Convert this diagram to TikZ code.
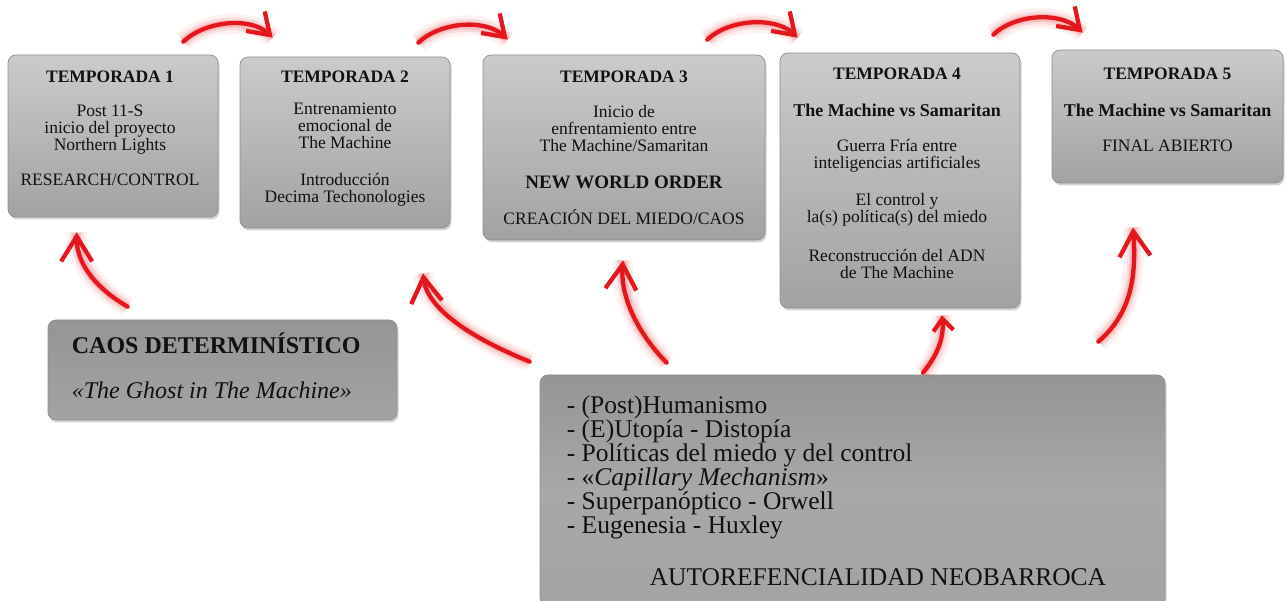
\documentclass[tikz,border=0pt]{standalone}
\usepackage{fontspec}
\setmainfont{Liberation Serif}
\usetikzlibrary{positioning,arrows.meta,shadows,calc}
\definecolor{boxtop}{HTML}{CBCBCB}
\definecolor{boxbot}{HTML}{A2A2A2}
\definecolor{boxrim}{HTML}{8E8E8E}
\definecolor{darktop}{HTML}{959595}
\definecolor{darkbot}{HTML}{A3A3A3}
\definecolor{darkmid}{HTML}{A8A8A8}
\definecolor{arrred}{HTML}{E5161C}
\definecolor{inkblack}{HTML}{111111}
\tikzset{
  ps box/.style={rounded corners=8pt, draw=boxrim, line width=0.7pt, top color=boxtop, bottom color=boxbot,
                 drop shadow={shadow xshift=1.5pt, shadow yshift=-2.5pt, opacity=0.35}, inner sep=0pt},
  ps dark/.style={ps box, top color=darktop, bottom color=darkbot},
  ps txt/.style={align=center, inner sep=0pt, text=inkblack, font=\fontsize{17.5}{17}\selectfont, anchor=north},
  ps arr/.style={arrred, line width=4.3pt, line cap=round, -{Straight Barb[length=20pt, width=27pt]},
                 preaction={draw=arrred, line width=20pt, opacity=0.06, -},
                 preaction={draw=arrred, line width=13pt, opacity=0.10, -},
                 preaction={draw=arrred, line width=8pt, opacity=0.15, -}},
  ps arr big/.style={ps arr, -{Straight Barb[length=25pt, width=31pt]}},
}
\begin{document}
\begin{tikzpicture}[x=1pt, y=1pt]
  \useasboundingbox (0,0) rectangle (1285,601);
  % season boxes along the top
  \node[ps box, minimum width=210pt, minimum height=162pt] (t1) at (113,465) {};
  \node[ps box, minimum width=210pt, minimum height=171pt] (t2) at (345,458.5) {};
  \node[ps box, minimum width=282pt, minimum height=185pt] (t3) at (624,453.5) {};
  \node[ps box, minimum width=240pt, minimum height=255pt] (t4) at (900,420.5) {};
  \node[ps box, minimum width=231pt, minimum height=133pt] (t5) at (1167.5,484.5) {};
  \node[ps txt] (t1txt) at ([xshift=-3pt, yshift=-16pt]t1.north) {\textbf{TEMPORADA 1}\\[17pt]Post 11-S\\inicio del proyecto\\Northern Lights\\[18pt]RESEARCH/CONTROL};
  \node[ps txt] (t2txt) at ([yshift=-14pt]t2.north) {\textbf{TEMPORADA 2}\\[15pt]Entrenamiento\\emocional de\\The Machine\\[20pt]Introducción\\Decima Techonologies};
  \node[ps txt] (t3txt) at ([yshift=-16pt]t3.north) {\textbf{TEMPORADA 3}\\[18pt]Inicio de\\enfrentamiento entre\\The Machine/Samaritan\\[20pt]{\fontsize{19}{17}\selectfont\bfseries NEW WORLD ORDER}\\[19pt]CREACIÓN DEL MIEDO/CAOS};
  \node[ps txt] (t4txt) at ([xshift=-3pt, yshift=-15pt]t4.north) {\textbf{TEMPORADA 4}\\[20pt]{\fontsize{18}{17}\selectfont\bfseries The Machine vs Samaritan}\\[18pt]Guerra Fría entre\\inteligencias artificiales\\[20pt]El control y\\la(s) política(s) del miedo\\[22pt]Reconstrucción del ADN\\de The Machine};
  \node[ps txt] (t5txt) at ([yshift=-18pt]t5.north) {\textbf{TEMPORADA 5}\\[20pt]{\fontsize{18}{17}\selectfont\bfseries The Machine vs Samaritan}\\[18pt]FINAL ABIERTO};
  % lower boxes
  \node[ps dark, minimum width=349pt, minimum height=100pt] (caos) at (222.5,231) {};
  \node[ps txt, anchor=north west, align=left, font=\fontsize{24}{24}\selectfont] (caostxt) at ([xshift=24pt, yshift=-13pt]caos.north west) {\textbf{CAOS DETERMINÍSTICO}\\[21pt]\textit{«The Ghost in The Machine»}};
  \node[ps dark, middle color=darkmid, minimum width=625pt, minimum height=231pt] (temas) at (852.5,110.5) {};
  \node[ps txt, anchor=north west, align=left, font=\fontsize{25.5}{24}\selectfont] (temastxt) at ([xshift=27pt, yshift=-21pt]temas.north west) {- (Post)Humanismo\\- (E)Utopía - Distopía\\- Políticas del miedo y del control\\- «\textit{Capillary Mechanism}»\\- Superpanóptico - Orwell\\- Eugenesia - Huxley};
  \node[ps txt, anchor=base, font=\fontsize{25.5}{24}\selectfont] (neo) at (878,15) {AUTOREFENCIALIDAD NEOBARROCA};
  % arrows between seasons
  \draw[ps arr] ([xshift=-35pt, yshift=13pt]t1.north east) .. controls +(22,21) and +(-22,21) .. ([xshift=33pt, yshift=19pt]t2.north west);
  \draw[ps arr] ([xshift=-32pt, yshift=14pt]t2.north east) .. controls +(22,21) and +(-22,21) .. ([xshift=25pt, yshift=15pt]t3.north west);
  \draw[ps arr] ([xshift=-58pt, yshift=15pt]t3.north east) .. controls +(22,21) and +(-22,21) .. ([xshift=18pt, yshift=15pt]t4.north west);
  \draw[ps arr] ([xshift=-27pt, yshift=18pt]t4.north east) .. controls +(22,21) and +(-22,21) .. ([xshift=31pt, yshift=17pt]t5.north west);
  % arrows from the lower boxes
  \draw[ps arr big] ([xshift=80pt, yshift=13pt]caos.north west) .. controls +(-28,16) and +(0,-34) .. ([xshift=69pt, yshift=-15pt]t1.south west);
  \draw[ps arr big] ([xshift=-10pt, yshift=13pt]temas.north west) .. controls +(-45,18) and +(5,-40) .. ([xshift=78pt, yshift=-45pt]t2.south);
  \draw[ps arr big] ([xshift=127pt, yshift=12pt]temas.north west) .. controls +(-25,25) and +(-3,-40) .. ([xshift=-1pt, yshift=-20pt]t3.south);
  \draw[ps arr, -{Straight Barb[length=12pt, width=20pt]}] ([xshift=70.5pt, yshift=2pt]temas.north) .. controls +(15,18) and +(2,-22) .. ([xshift=42pt, yshift=-7pt]t4.south);
  \draw[ps arr big] ([xshift=-67pt, yshift=33pt]temas.north east) .. controls +(35,30) and +(3,-45) .. ([xshift=-34.5pt, yshift=-44pt]t5.south);
\end{tikzpicture}
\end{document}
